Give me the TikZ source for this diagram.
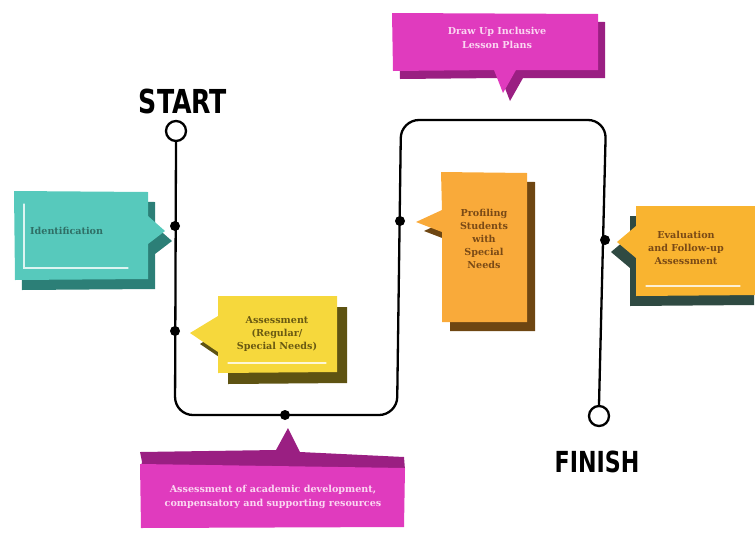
\documentclass[tikz,border=0pt]{standalone}
\usepackage{fontspec}
\setmainfont{DejaVu Serif}
\newfontfamily\handfont{DejaVu Sans Condensed}
\definecolor{tealface}{HTML}{57C9BC}
\definecolor{tealshade}{HTML}{2C7F77}
\definecolor{tealtext}{HTML}{2F6F66}
\definecolor{yelface}{HTML}{F6D83C}
\definecolor{yelshade}{HTML}{5E5312}
\definecolor{yeltext}{HTML}{6A5A12}
\definecolor{orface}{HTML}{F9AA3A}
\definecolor{orshade}{HTML}{6E4612}
\definecolor{ortext}{HTML}{7A4A16}
\definecolor{goldface}{HTML}{F9B430}
\definecolor{goldshade}{HTML}{2F4A42}
\definecolor{pinkface}{HTML}{E03BBE}
\definecolor{pinkshade}{HTML}{9A1F82}
\definecolor{pinktext}{HTML}{FBD6F2}
\begin{document}
\begin{tikzpicture}[x=1pt,y=-1pt,
  track/.style={line width=2.3pt, line cap=round, line join=round, rounded corners=18pt},
  dot/.style={circle, fill=black, inner sep=0pt, minimum size=10pt},
  endring/.style={circle, draw=black, line width=2.3pt, fill=white, inner sep=0pt, minimum size=20pt},
  boxtext/.style={font=\bfseries\fontsize{9.6}{13.2}\selectfont, align=center, inner sep=0pt},
  shine/.style={white, opacity=0.8, line width=1.2pt, line cap=round},
  handtext/.style={font=\handfont\bfseries\fontsize{33}{33}\selectfont, inner sep=0pt, xscale=0.85},
  % outlines of the callouts, pointer included
  identshape/.style={insert path={(14,191) -- (148,192) -- (148,216) -- (165,231) -- (148,244) -- (148,279) -- (15,280) -- cycle}},
  assessshape/.style={insert path={(218,296) -- (337,296) -- (337,372) -- (218,373) -- (218,352) -- (190,333) -- (218,316) -- cycle}},
  profileshape/.style={insert path={(441,172) -- (527,173) -- (527,322) -- (442,322) -- (442,232) -- (416,222) -- (442,210) -- cycle}},
  evalshape/.style={insert path={(636,206) -- (760,206) -- (760,295) -- (636,296) -- (636,258) -- (617,242) -- (636,226) -- cycle}},
  planshape/.style={insert path={(392,13) -- (598,14) -- (598,70) -- (516,70) -- (503,93) -- (494,70) -- (393,71) -- cycle}}]
\useasboundingbox (0,0) rectangle (755,536);

% ---- callouts: shadow first, then face ----
% Identification
\fill[tealshade, shift={(7,10)}, identshape];
\fill[tealface, identshape];
\draw[shine] (24,204) -- (24,268) -- (128,268);
\node[boxtext, text=tealtext, anchor=west] (ident) at (30,231) {Identification};

% Assessment
\fill[yelshade, shift={(10,11)}, assessshape];
\fill[yelface, assessshape];
\draw[shine] (228,363) -- (326,363);
\node[boxtext, text=yeltext] (assess) at (277,334) {Assessment\\(Regular/\\Special Needs)};

% Profiling students
\fill[orshade, shift={(8,9)}, profileshape];
\fill[orface, profileshape];
\node[boxtext, text=ortext] (profile) at (484,239) {Profiling\\Students\\with\\Special\\Needs};

% Evaluation
\fill[goldshade, shift={(-6,10)}, evalshape];
\fill[goldface, evalshape];
\draw[shine] (646,286) -- (740,286);
\node[boxtext, text=ortext] (evalu) at (686,248) {Evaluation\\and Follow-up\\Assessment};

% Lesson plans
\fill[pinkshade, shift={(7,8)}, planshape];
\fill[pinkface, planshape];
\node[boxtext, text=pinktext] (plans) at (497,38) {Draw Up Inclusive\\Lesson Plans};

% Academic development, with a darker top face
\fill[pinkshade] (142,462) -- (140,452) -- (276,450) -- (288,428) -- (300,452) -- (404,457) -- (405,470) -- (140,470) -- cycle;
\fill[pinkface] (140,464) -- (405,468) -- (404,527) -- (141,528) -- cycle;
\node[boxtext, text=pinktext] (academic) at (273,497) {Assessment of academic development,\\compensatory and supporting resources};

% ---- the track from start to finish ----
\node[endring] (start) at (176,131) {};
\node[endring] (finish) at (599,416) {};
\coordinate (c1) at (175,415);
\coordinate (c2) at (397,415);
\coordinate (c3) at (401,120);
\coordinate (c4) at (606,120);
\draw[track] (start.south) -- (c1) -- (c2) -- (c3) -- (c4) -- (finish.north);
\node[dot] (d1) at (175,226) {};
\node[dot] (d2) at (175,331) {};
\node[dot] (d3) at (285,415) {};
\node[dot] (d4) at (400,221) {};
\node[dot] (d5) at (605,240) {};

\node[handtext] (starttxt) at (183,101) {START};
\node[handtext, font=\handfont\bfseries\fontsize{29}{29}\selectfont] (finishtxt) at (597,462) {FINISH};
\end{tikzpicture}
\end{document}
